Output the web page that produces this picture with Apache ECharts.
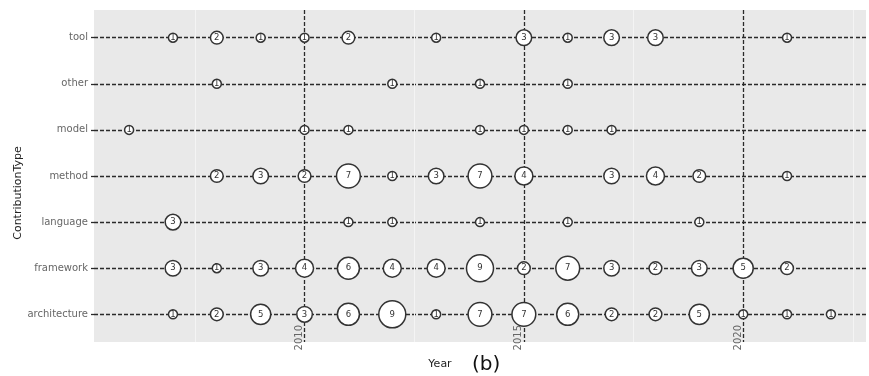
<!DOCTYPE html>
<html><head><meta charset="utf-8">
<script src="https://cdn.jsdelivr.net/npm/echarts@6/dist/echarts.min.js"></script>
<style>html,body{margin:0;padding:0;background:#fff}#c{width:869px;height:376px}</style>
</head><body><div id="c"></div>
<script>
const categories = ['architecture', 'framework', 'language', 'method', 'model', 'other', 'tool'];
const years = [2006, 2007, 2008, 2009, 2010, 2011, 2012, 2013, 2014, 2015, 2016, 2017, 2018, 2019, 2020, 2021, 2022];
const xTickLabels = [2010, 2015, 2020];
const xMinorLines = [2007.5, 2012.5, 2017.5, 2022.5];

const tool         = [null, 1, 2, 1, 1, 2, null, 1, null, 3, 1, 3, 3, null, null, 1, null];
const other        = [null, null, 1, null, null, null, 1, null, 1, null, 1, null, null, null, null, null, null];
const model        = [1, null, null, null, 1, 1, null, null, 1, 1, 1, 1, null, null, null, null, null];
const method       = [null, null, 2, 3, 2, 7, 1, 3, 7, 4, null, 3, 4, 2, null, 1, null];
const language     = [null, 3, null, null, null, 1, 1, null, 1, null, 1, null, null, 1, null, null, null];
const framework    = [null, 3, 1, 3, 4, 6, 4, 4, 9, 2, 7, 3, 2, 3, 5, 2, null];
const architecture = [null, 1, 2, 5, 3, 6, 9, 1, 7, 7, 6, 2, 2, 5, 1, 1, 1];

const rows = { architecture, framework, language, method, model, other, tool };

const points = [];
categories.forEach((cat, ci) => {
  rows[cat].forEach((v, yi) => { if (v != null) points.push([years[yi], ci, v]); });
});

const dash = [4, 2];
const lineCol = '#2a2a2a';
const chart = echarts.init(document.getElementById('c'));
chart.setOption({
  animation: false,
  textStyle: { fontFamily: 'DejaVu Sans' },
  title: {
    text: '(b)', left: 467, top: 350,
    textStyle: { fontSize: 20, fontWeight: 'normal', color: '#111', fontFamily: 'DejaVu Sans' }
  },
  grid: {
    left: 94, right: 3, top: 10, bottom: 34, outerBoundsMode: 'none', containLabel: false,
    show: true, backgroundColor: '#e9e9e9', borderWidth: 0
  },
  xAxis: [{
    type: 'value', min: 2005.2, max: 2022.8,
    name: 'Year', nameLocation: 'middle', nameGap: 11,
    nameTextStyle: { color: '#222', fontSize: 11, padding: [0, 80, 0, 0] },
    axisLine: { show: false },
    axisTick: { show: true, customValues: xTickLabels, length: 6, lineStyle: { color: lineCol, type: dash, width: 1.3 } },
    axisLabel: { customValues: xTickLabels, formatter: v => String(v), rotate: 90, margin: -17,
      verticalAlign: 'bottom', color: '#666', fontSize: 10 },
    splitLine: { show: true, lineStyle: { color: lineCol, type: dash, width: 1.3 } }
  }, {
    type: 'value', min: 2005.2, max: 2022.8, position: 'bottom',
    axisLine: { show: false }, axisLabel: { show: false },
    axisTick: { show: false, customValues: xMinorLines },
    splitLine: { show: true, lineStyle: { color: '#f4f4f4', width: 1 } }
  }],
  yAxis: {
    type: 'value', min: -0.6, max: 6.6,
    name: 'ContributionType', nameLocation: 'middle', nameGap: 70, nameMoveOverlap: false,
    nameTextStyle: { color: '#222', fontSize: 11, padding: [0, 34, 0, 0] },
    axisLine: { show: false },
    axisTick: { show: true, customValues: [0, 1, 2, 3, 4, 5, 6], length: 3, lineStyle: { color: lineCol, width: 1.3 } },
    axisLabel: { customValues: [0, 1, 2, 3, 4, 5, 6], formatter: v => categories[v] || '', color: '#666', fontSize: 10, margin: 6 },
    splitLine: { show: true, lineStyle: { color: lineCol, type: dash, width: 1.3 } }
  },
  series: [{
    type: 'scatter',
    data: points,
    symbolSize: d => 9 * Math.sqrt(d[2]),
    itemStyle: { color: '#fff', borderColor: '#333', borderWidth: 1.5, opacity: 1 },
    label: { show: true, position: 'inside', formatter: p => p.value[2], fontSize: 8.5, color: '#333' },
    z: 5
  }]
});
</script></body></html>
